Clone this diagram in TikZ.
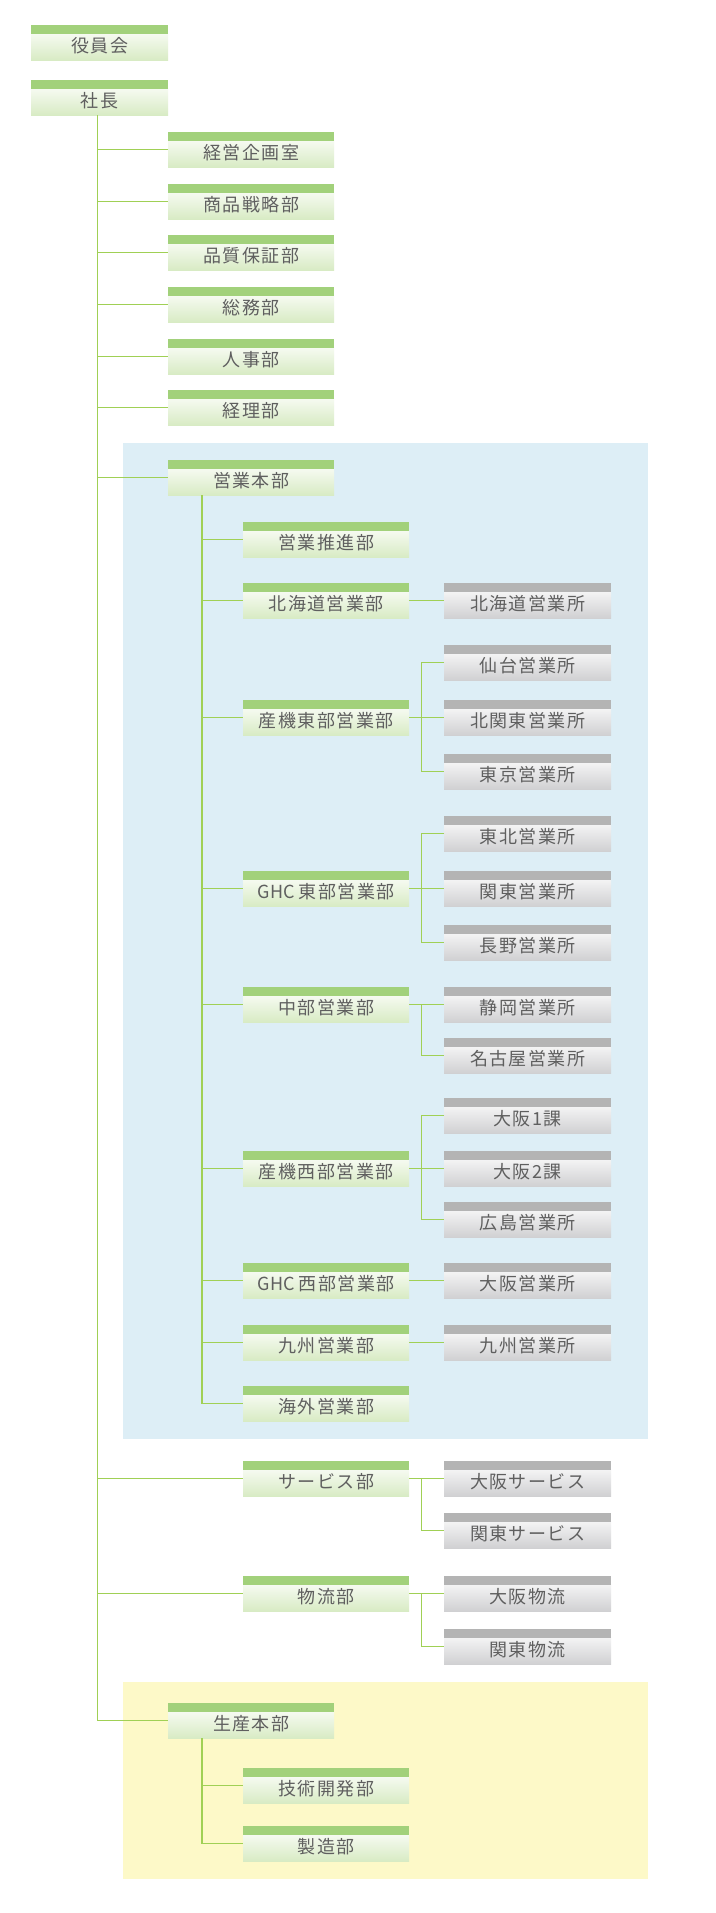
\documentclass[tikz,border=0pt]{standalone}
\usepackage{fontspec}
\newfontfamily\jp[LetterSpace=8]{Noto Sans CJK JP}
\newfontfamily\jplat{Noto Sans CJK JP}
\definecolor{gbar}{RGB}{162,209,123}
\definecolor{gbot}{RGB}{216,235,196}
\definecolor{sbar}{RGB}{180,180,180}
\definecolor{sbot}{RGB}{208,208,210}
\definecolor{txt}{RGB}{95,95,95}
\definecolor{conn}{RGB}{160,208,85}
\definecolor{bluebg}{RGB}{221,238,246}
\definecolor{yelbg}{RGB}{253,249,200}
\tikzset{
  basebox/.style={minimum height=35pt, inner sep=0pt, anchor=north west, fill=white,
    text=txt, font=\jp\fontsize{18}{20}\selectfont, text height=21pt, text depth=2pt},
  gbox/.style={basebox, minimum width=166pt,
    path picture={
      \shade[top color=white, bottom color=gbot] ([yshift=-8.5pt]path picture bounding box.north west) rectangle (path picture bounding box.south east);
      \fill[gbar] (path picture bounding box.north west) rectangle ([yshift=-8.5pt]path picture bounding box.north east);}},
  topbox/.style={gbox, minimum width=137pt},
  sbox/.style={basebox, minimum width=167pt,
    path picture={
      \shade[top color=white, bottom color=sbot] ([yshift=-8.5pt]path picture bounding box.north west) rectangle (path picture bounding box.south east);
      \fill[sbar] (path picture bounding box.north west) rectangle ([yshift=-8.5pt]path picture bounding box.north east);}},
  line/.style={draw=conn, line width=1.3pt}
}
\begin{document}
\begin{tikzpicture}[x=1pt,y=-1pt]
\fill[white] (0,0) rectangle (715,1913);
\useasboundingbox (0,0) rectangle (715,1913);
\fill[bluebg] (123,443) rectangle (648,1439);
\fill[yelbg] (123,1682) rectangle (648,1879);

% top
\node[topbox] (yakuin) at (31,25) {役員会};
\node[topbox] (shacho) at (31,80) {社長};
% level 1
\node[gbox] (keiei) at (168,132) {経営企画室};
\node[gbox] (shohin) at (168,184) {商品戦略部};
\node[gbox] (hinshitsu) at (168,235) {品質保証部};
\node[gbox] (somu) at (168,287) {総務部};
\node[gbox] (jinji) at (168,339) {人事部};
\node[gbox] (keiri) at (168,390) {経理部};
\node[gbox] (eigyo) at (168,460) {営業本部};
\node[gbox] (seisan) at (168,1703) {生産本部};
% level 2 in sales
\node[gbox] (suishin) at (243,522) {営業推進部};
\node[gbox] (hokkaido) at (243,583) {北海道営業部};
\node[gbox] (sankiE) at (243,700) {産機東部営業部};
\node[gbox] (ghcE) at (243,871) {{\jplat GHC }東部営業部};
\node[gbox] (chubu) at (243,987) {中部営業部};
\node[gbox] (sankiW) at (243,1151) {産機西部営業部};
\node[gbox] (ghcW) at (243,1263) {{\jplat GHC }西部営業部};
\node[gbox] (kyushu) at (243,1325) {九州営業部};
\node[gbox] (kaigai) at (243,1386) {海外営業部};
\node[gbox] (service) at (243,1461) {サービス部};
\node[gbox] (butsuryu) at (243,1576) {物流部};
\node[gbox] (gijutsu) at (243,1768) {技術開発部};
\node[gbox] (seizo) at (243,1826) {製造部};
% offices
\node[sbox] (hokkaidoO) at (444,583) {北海道営業所};
\node[sbox] (sendai) at (444,645) {仙台営業所};
\node[sbox] (kitakanto) at (444,700) {北関東営業所};
\node[sbox] (tokyo) at (444,754) {東京営業所};
\node[sbox] (tohoku) at (444,816) {東北営業所};
\node[sbox] (kanto) at (444,871) {関東営業所};
\node[sbox] (nagano) at (444,925) {長野営業所};
\node[sbox] (shizuoka) at (444,987) {静岡営業所};
\node[sbox] (nagoya) at (444,1038) {名古屋営業所};
\node[sbox] (osaka1) at (444,1098) {大阪1課};
\node[sbox] (osaka2) at (444,1151) {大阪2課};
\node[sbox] (hiroshima) at (444,1202) {広島営業所};
\node[sbox] (osakaO) at (444,1263) {大阪営業所};
\node[sbox] (kyushuO) at (444,1325) {九州営業所};
\node[sbox] (osakaS) at (444,1461) {大阪サービス};
\node[sbox] (kantoS) at (444,1513) {関東サービス};
\node[sbox] (osakaB) at (444,1576) {大阪物流};
\node[sbox] (kantoB) at (444,1629) {関東物流};

% main trunk
\coordinate (trunk) at ([xshift=-2.5pt]shacho.south);
\draw[line] (trunk) |- (seisan.west);
\foreach \n in {keiei,shohin,hinshitsu,somu,jinji,keiri,eigyo,service,butsuryu}
  \draw[line] (trunk |- \n.west) -- (\n.west);
% sales trunk
\coordinate (etrunk) at ([xshift=34pt]eigyo.south west);
\draw[line] (etrunk) |- (kaigai.west);
\foreach \n in {suishin,hokkaido,sankiE,ghcE,chubu,sankiW,ghcW,kyushu}
  \draw[line] (etrunk |- \n.west) -- (\n.west);
% production trunk
\coordinate (ptrunk) at ([xshift=34pt]seisan.south west);
\draw[line] (ptrunk) |- (seizo.west);
\draw[line] (ptrunk |- gijutsu.west) -- (gijutsu.west);
% branch offices
\draw[line] (hokkaido.east) -- (hokkaidoO.west);
\draw[line] (sankiE.east) -- (kitakanto.west);
\draw[line] (sendai.west) -| ([xshift=12pt]sankiE.east) |- (tokyo.west);
\draw[line] (ghcE.east) -- (kanto.west);
\draw[line] (tohoku.west) -| ([xshift=12pt]ghcE.east) |- (nagano.west);
\draw[line] (chubu.east) -- (shizuoka.west);
\draw[line] ([xshift=12pt]chubu.east) |- (nagoya.west);
\draw[line] (sankiW.east) -- (osaka2.west);
\draw[line] (osaka1.west) -| ([xshift=12pt]sankiW.east) |- (hiroshima.west);
\draw[line] (ghcW.east) -- (osakaO.west);
\draw[line] (kyushu.east) -- (kyushuO.west);
\draw[line] (service.east) -- (osakaS.west);
\draw[line] ([xshift=12pt]service.east) |- (kantoS.west);
\draw[line] (butsuryu.east) -- (osakaB.west);
\draw[line] ([xshift=12pt]butsuryu.east) |- (kantoB.west);
\end{tikzpicture}
\end{document}
